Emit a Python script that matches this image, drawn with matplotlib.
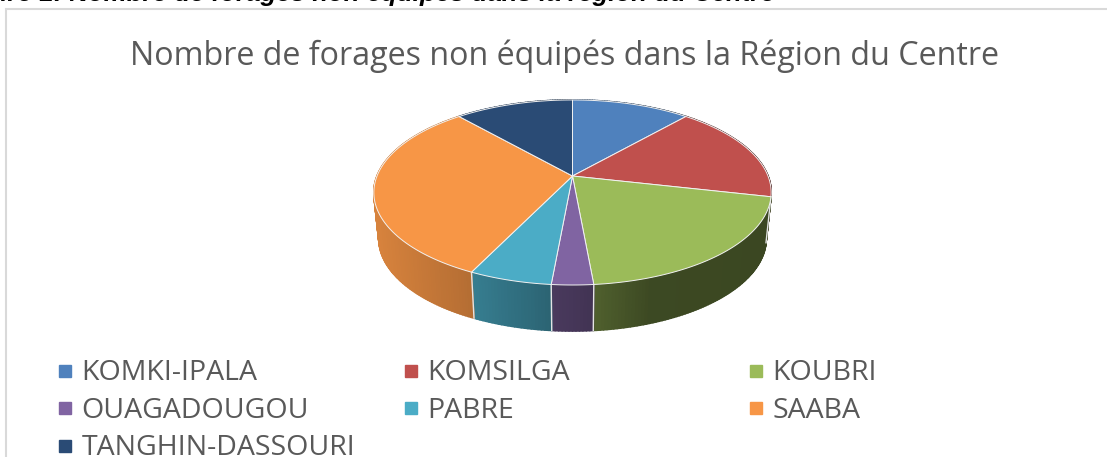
import numpy as np
import matplotlib
matplotlib.use('Agg')
import matplotlib.pyplot as plt
from matplotlib.collections import PolyCollection
from matplotlib.colors import to_rgb

communes = ['KOMKI-IPALA', 'KOMSILGA', 'KOUBRI', 'OUAGADOUGOU', 'PABRE', 'SAABA', 'TANGHIN-DASSOURI']
forages = [4, 6, 7, 1, 2, 11, 4]
couleurs = ['#4F81BD', '#C0504D', '#9BBB59', '#8064A2', '#4BACC6', '#F79646', '#2A4B75']

titre = 'Nombre de forages non équipés dans la Région du Centre'
legende = 'Figure 1: Nombre de forages non équipés dans la région du Centre'

# pie geometry in pixels, the figure axes run in image coordinates
cx, cy = 572.5, 176
rx = 195.5
a, b = 89.6, -0.178
epaisseur = 46

plt.rcParams['font.family'] = ['Open Sans', 'DejaVu Sans']


def projette(angle):
    # angle clockwise from the top, perspective view of the unit circle
    x = np.sin(angle)
    v = -np.cos(angle)
    d = 1 + b * v
    return cx + rx * x / d, cy + a * v / d


def sombre(x):
    # side shading follows the horizontal position
    return np.interp(x, [375, 470, 550, 600, 650, 771], [.87, .73, .58, .5, .39, .38])


fig = plt.figure(figsize=(11.07, 4.57), dpi=100)
ax = fig.add_axes([0, 0, 1, 1])
ax.set_xlim(0, 1107)
ax.set_ylim(457, 0)
ax.axis('off')

ax.plot([6, 6, 1107], [457, 9, 9], color='#d9d9d9', lw=1.5, solid_joinstyle='miter')
ax.text(775, 1.5, legende, ha='right', va='baseline', fontsize=18.6, color='black',
        family='Liberation Sans', weight='bold', style='italic', clip_on=False)
ax.text(565, 56, titre, ha='center', va='center', fontsize=23.2, color='#595959')

bornes = 2 * np.pi * np.concatenate(([0], np.cumsum(forages))) / np.sum(forages)

# side first, the top faces hide the back of it
quads, teintes = [], []
for i, coul in enumerate(couleurs):
    t = np.linspace(bornes[i], bornes[i + 1], max(int(forages[i] * 12), 4) + 1)
    x, y = projette(t)
    xb = cx + 0.975 * (x - cx)
    yb = y + epaisseur
    for j in range(len(t) - 1):
        quads.append([(x[j], y[j]), (x[j + 1], y[j + 1]), (xb[j + 1], yb[j + 1]), (xb[j], yb[j])])
        teintes.append(tuple(np.array(to_rgb(coul)) * sombre((x[j] + x[j + 1]) / 2)))
ax.add_collection(PolyCollection(quads, facecolors=teintes, edgecolors=teintes, linewidths=1.2, zorder=2))

for ang in bornes[:-1]:
    x, y = projette(ang)
    if np.cos(ang) < 0.1:
        ax.plot([x, cx + 0.975 * (x - cx)], [y, y + epaisseur], color='#e4e4e4', lw=1, zorder=3)

for i, coul in enumerate(couleurs):
    t = np.linspace(bornes[i], bornes[i + 1], 80)
    x, y = projette(t)
    ax.fill(np.r_[cx, x], np.r_[cy, y], facecolor=coul, edgecolor='#f2f2f2', lw=0.7, zorder=4)

xs = [59, 405, 750]
ys = [373, 410.5, 448]
for i, nom in enumerate(communes):
    px = xs[i % 3]
    py = ys[i // 3]
    ax.plot([px + 6], [py - 2.5], marker='s', ms=8.6, color=couleurs[i], ls='none')
    ax.text(px + 22.5, py, nom, ha='left', va='center', fontsize=20.5, color='#595959')

fig.savefig('out.png', dpi=100)
